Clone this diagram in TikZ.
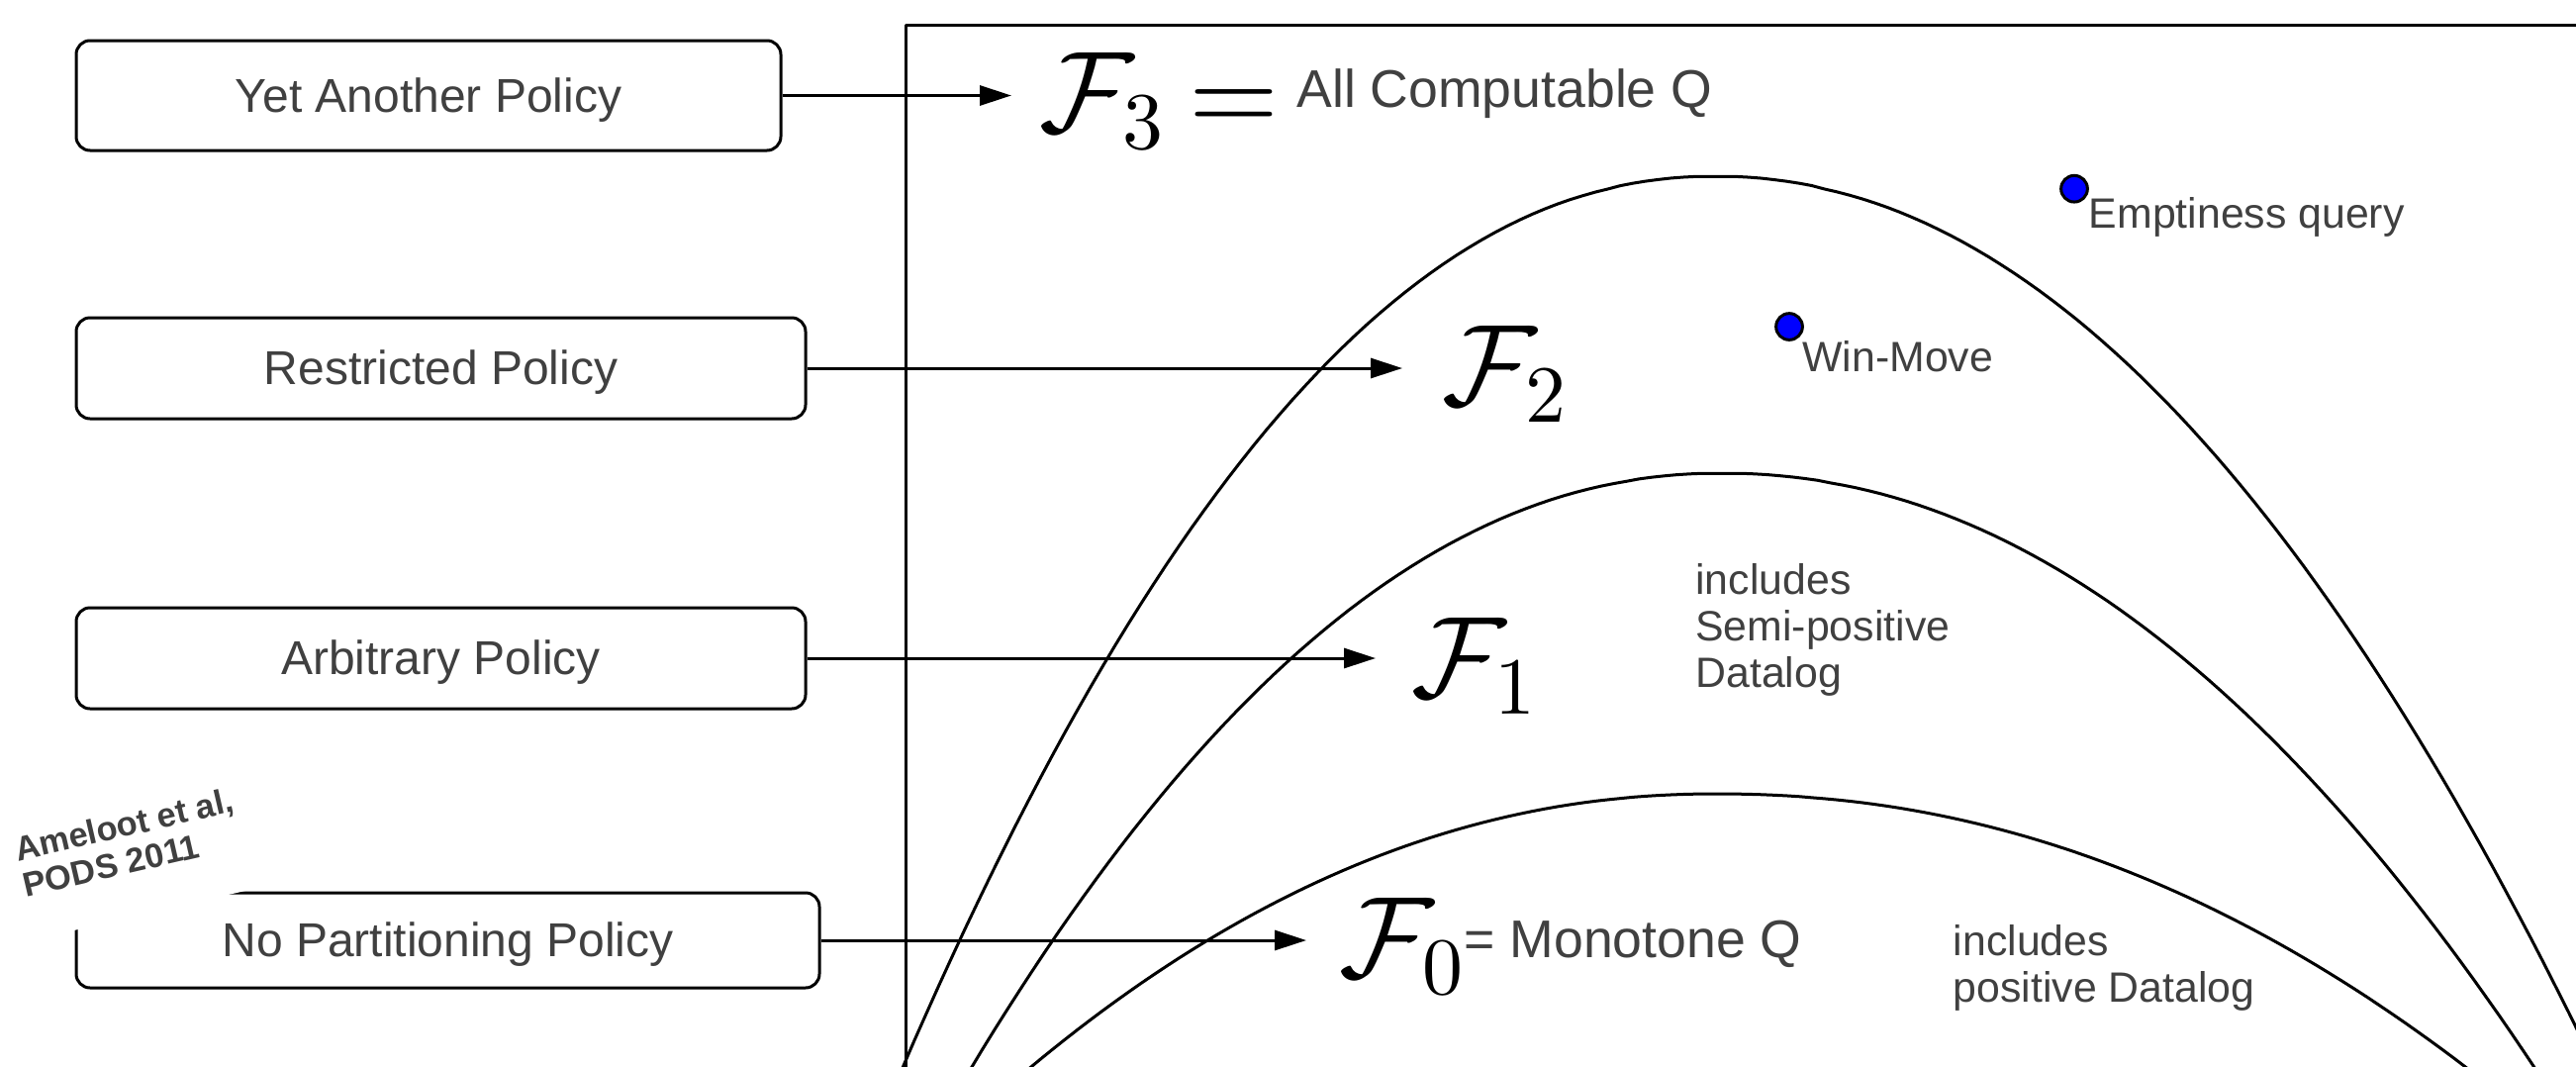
\documentclass[tikz,border=0pt]{standalone}
\usepackage[no-math]{fontspec}
\setmainfont{Liberation Sans}
% let the Computer Modern maths fonts scale to any size
\DeclareFontShape{OMS}{cmsy}{m}{n}{<->cmsy10}{}
\DeclareFontShape{OT1}{cmr}{m}{n}{<->cmr10}{}
\DeclareFontShape{OML}{cmm}{m}{it}{<->cmmi10}{}
\usetikzlibrary{arrows.meta}
\definecolor{txtgray}{HTML}{404040}
\definecolor{dotblue}{HTML}{0000FF}
\newcommand{\fsz}[2]{\fontsize{#1}{#2}\selectfont}
% arch with its top at (#1,#2): left half drops #4 over #3 with exponent #5,
% right half drops #7 over #6 with exponent #8
\newcommand{\arch}[8]{%
  \draw[archline]
    plot[variable=\u, domain=900:20, samples=70] ({#1-\u}, {#2+#4*pow(\u/#3,#5)})
    -- plot[variable=\u, domain=20:900, samples=70] ({#1+\u}, {#2+#7*pow(\u/#6,#8)});}
\begin{document}
\begin{tikzpicture}[x=0.5pt, y=-0.5pt,
  policy/.style={draw, line width=1.5pt, rounded corners=7pt, inner sep=0pt,
    text=txtgray, font=\fsz{24}{28}, text height=16.5pt, text depth=0pt},
  arr/.style={line width=1.5pt, -{Triangle[length=16pt,width=10pt]}},
  archline/.style={line width=1.5pt, line join=round},
  fam/.style={inner sep=0pt, anchor=base west, font=\fsz{58.5}{60}},
  lbl/.style={inner sep=0pt, anchor=base west, text=txtgray},
  big/.style={lbl, font=\fsz{26.8}{30}},
  small/.style={lbl, font=\fsz{21.4}{23.5}, align=left},
  dot/.style={circle, draw, line width=1.5pt, fill=dotblue, inner sep=0pt, minimum size=13.35pt}
]
\useasboundingbox (0,0) rectangle (2603,1077);
\clip (0,0) rectangle (2603,1077);
\fill[white] (0,0) rectangle (2603,1077);

% frame of the query classes
\draw[archline] (915,25.5) rectangle (2700,1200);

% nested classes F2, F1, F0
\arch{1734}{178}{819}{894}{2.12}{869}{860}{2.05}
\arch{1740}{478}{755}{595}{2.1}{820}{599}{2.06}
\arch{1734}{802}{691}{275}{2.09}{756}{275}{2.1}

% policies
\node[policy, minimum width=356pt, minimum height=55.5pt] (b1) at (433,96.5) {Yet Another Policy};
\node[policy, minimum width=368.5pt, minimum height=51pt] (b2) at (445.5,372) {Restricted Policy};
\node[policy, minimum width=368.5pt, minimum height=51pt] (b3) at (445.5,665) {Arbitrary Policy};
\node[policy, minimum width=375.5pt, minimum height=48pt] (b4) at (452.5,950) {No Partitioning Policy};

% citation, set over the corner of the last box
\node[rotate=13, anchor=south west, fill=white, text=txtgray,
  font=\fsz{17.2}{18.6}\bfseries, align=left, inner xsep=1.5pt, inner ysep=21.5pt]
  (cite) at (33,950) {Ameloot et al,\\PODS 2011};

% class names
\node[fam] (f3) at (1050,133) {$\mathcal{F}_3\mskip-1.1mu =$};
\node[big] (allq) at (1310,108) {All Computable Q};
\node[fam] (f2) at (1457,409) {$\mathcal{F}_2$};
\node[fam] (f1) at (1426,704) {$\mathcal{F}_1$};
\node[fam] (f0) at (1353,987) {$\mathcal{F}_0$};
\node[big] (mono) at (1479,967) {= Monotone Q};

% policy to class
\draw[arr, shorten >=14pt] (b1.east) -- (b1.east -| f3.west);
\draw[arr, shorten >=20pt] (b2.east) -- (b2.east -| f2.west);
\draw[arr, shorten >=18pt] (b3.east) -- (b3.east -| f1.west);
\draw[arr, shorten >=16.5pt] (b4.east) -- (b4.east -| f0.west);

% sample queries
\node[dot] (d1) at (2096,190.7) {};
\node[lbl, font=\fsz{21.4}{23.5}] (empt) at (2110.5,230.7) {Emptiness query};
\node[dot] (d2) at (1808,330) {};
\node[lbl, font=\fsz{21.4}{23.5}] (wm) at (1821,375.7) {Win-Move};

% notes (anchored at the baseline of their last line)
\node[small] (semi) at (1713,694) {includes\\Semi-positive\\Datalog};
\node[small] (pos) at (1973.5,1012) {includes\\positive Datalog};
\end{tikzpicture}
\end{document}
